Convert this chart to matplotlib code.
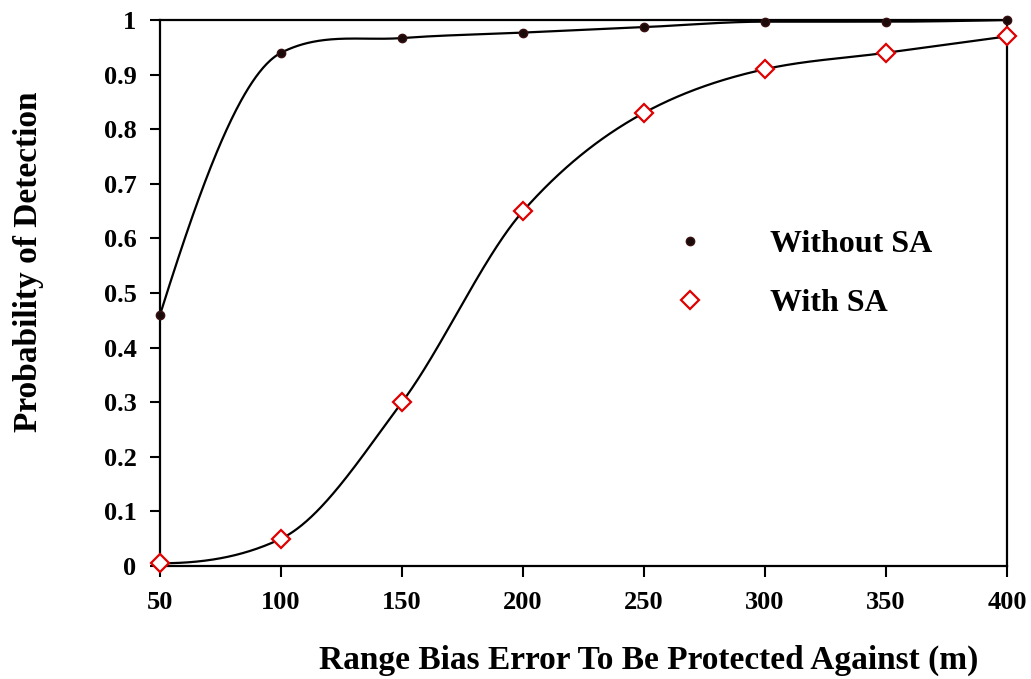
import numpy as np
import matplotlib
matplotlib.use("Agg")
import matplotlib.pyplot as plt

x_vals = [50, 100, 150, 200, 250, 300, 350, 400]
without_sa = [0.46, 0.94, 0.967, 0.977, 0.987, 0.997, 0.997, 1.0]
with_sa = [0.005, 0.05, 0.30, 0.65, 0.83, 0.91, 0.94, 0.97]
y_ticks = [0, 0.1, 0.2, 0.3, 0.4, 0.5, 0.6, 0.7, 0.8, 0.9, 1]
y_tick_labels = ["0", "0.1", "0.2", "0.3", "0.4", "0.5", "0.6", "0.7", "0.8", "0.9", "1"]


def smooth_curve(x, y, xn):
    """Cubic Hermite smoothing through the points (geometric-mean tangents)."""
    x = np.asarray(x, float); y = np.asarray(y, float)
    h = np.diff(x); d = np.diff(y) / h
    n = len(x); m = np.zeros(n)
    for k in range(1, n - 1):
        if d[k - 1] * d[k] > 0:
            m[k] = np.sign(d[k]) * np.sqrt(d[k - 1] * d[k])
    def endslope(h0, h1, d0, d1):
        s = ((2 * h0 + h1) * d0 - h0 * d1) / (h0 + h1)
        if np.sign(s) != np.sign(d0):
            s = 0.0
        return s
    m[0] = endslope(h[0], h[1], d[0], d[1])
    m[-1] = endslope(h[-1], h[-2], d[-1], d[-2])
    idx = np.clip(np.searchsorted(x, xn) - 1, 0, n - 2)
    t = (xn - x[idx]) / h[idx]
    h00 = 2 * t**3 - 3 * t**2 + 1; h10 = t**3 - 2 * t**2 + t
    h01 = -2 * t**3 + 3 * t**2; h11 = t**3 - t**2
    return h00 * y[idx] + h10 * h[idx] * m[idx] + h01 * y[idx + 1] + h11 * h[idx] * m[idx + 1]


fig = plt.figure(figsize=(10.31, 6.79), dpi=100)
ax = fig.add_axes([0.1552, 0.1664, 0.8215, 0.8041])

font = "Liberation Serif"
xs = np.linspace(50, 400, 700)
ax.plot(xs, np.minimum(smooth_curve(x_vals, without_sa, xs), 1.0), color="black", lw=1.6, zorder=2)
ax.plot(xs, smooth_curve(x_vals, with_sa, xs), color="black", lw=1.6, zorder=2)

ax.plot(x_vals, without_sa, linestyle="none", marker="o", markersize=6,
        markerfacecolor="#1a0a0a", markeredgecolor="#3a1010", markeredgewidth=1.0,
        label="Without SA", zorder=3, clip_on=False)
ax.plot(x_vals, with_sa, linestyle="none", marker="D", markersize=9,
        markerfacecolor="white", markeredgecolor="#e00000", markeredgewidth=1.6,
        label="With SA", zorder=3, clip_on=False)

ax.set_xlim(50, 400)
ax.set_ylim(0, 1)
ax.set_xticks(x_vals)
ax.set_xticklabels([str(v) for v in x_vals], fontfamily=font, fontweight="bold", fontsize=19)
ax.set_yticks(y_ticks)
ax.set_yticklabels(y_tick_labels, fontfamily=font, fontweight="bold", fontsize=19)
ax.tick_params(axis="y", direction="out", length=7.5, width=1.5, pad=9.5)
ax.tick_params(axis="x", direction="out", length=8, width=1.5, pad=10)
for s in ax.spines.values():
    s.set_linewidth(1.6)

ax.set_xlabel("Range Bias Error To Be Protected Against (m)", fontfamily=font,
              fontweight="bold", fontsize=24, labelpad=22)
ax.xaxis.label.set_x(0.577)
ax.set_ylabel("Probability of Detection", fontfamily=font, fontweight="bold",
              fontsize=24, labelpad=43)
ax.yaxis.label.set_y(0.557)

leg = ax.legend(loc="center left", bbox_to_anchor=(0.573, 0.535), frameon=False,
                handlelength=1.0, handletextpad=2.0, labelspacing=0.92,
                prop={"family": font, "weight": "bold", "size": 23})

fig.savefig("out.png", dpi=100)
